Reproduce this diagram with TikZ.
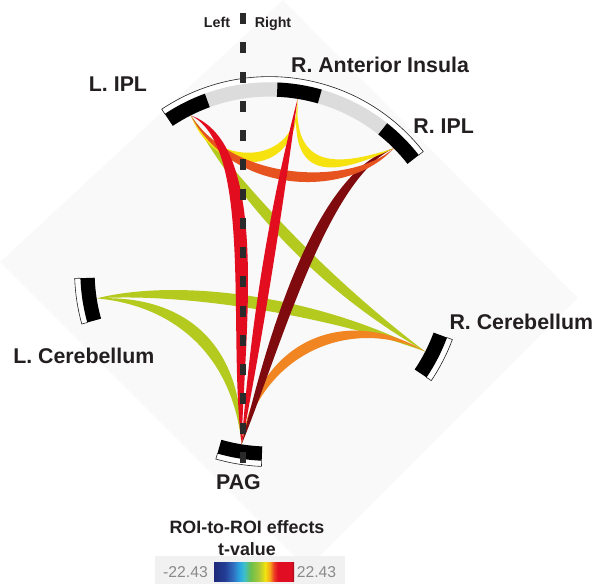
\documentclass[tikz,border=0pt]{standalone}
\usepackage{fontspec}
\setmainfont{Liberation Sans}
\usetikzlibrary{calc}
\definecolor{lbl}{HTML}{231F20}
\definecolor{bgc}{HTML}{F9F9F9}
\definecolor{cbbg}{HTML}{F1F1F1}
\definecolor{ringgray}{HTML}{DCDCDC}
\definecolor{numgray}{HTML}{8A8A8A}
\definecolor{dashc}{HTML}{2A2A2A}
\definecolor{cYG}{HTML}{B4CA1F}
\definecolor{cOR}{HTML}{F08522}
\definecolor{cDR}{HTML}{7F0B0E}
\definecolor{cYE}{HTML}{F6E20F}
\definecolor{cOR2}{HTML}{E6531F}
\definecolor{cRE}{HTML}{E30D20}
\definecolor{cbA}{HTML}{1F2A7A}
\definecolor{cbB}{HTML}{233E96}
\definecolor{cbC}{HTML}{2F6FC0}
\definecolor{cbD}{HTML}{2AA7E0}
\definecolor{cbE}{HTML}{3FBFC8}
\definecolor{cbF}{HTML}{6CBF4A}
\definecolor{cbG}{HTML}{A9C83A}
\definecolor{cbH}{HTML}{F2E40F}
\definecolor{cbI}{HTML}{F7A21B}
\definecolor{cbJ}{HTML}{EC3A24}
\definecolor{cbK}{HTML}{E10D22}
\definecolor{cbL}{HTML}{A80F1F}
\pgfdeclarehorizontalshading{cbarshade}{100bp}{color(0bp)=(cbA); color(25bp)=(cbA); color(32bp)=(cbB); color(37bp)=(cbC); color(41bp)=(cbD); color(44bp)=(cbE); color(48bp)=(cbF); color(53bp)=(cbG); color(57bp)=(cbH); color(60bp)=(cbI); color(62.5bp)=(cbJ); color(65bp)=(cbK); color(73bp)=(cbK); color(75bp)=(cbL); color(100bp)=(cbL)}
\newcommand{\annsec}[5]{\fill[#1] (#2:#4) arc[start angle=#2, end angle=#3, radius=#4] -- (#3:#5) arc[start angle=#3, end angle=#2, radius=#5] -- cycle;}
\newcommand{\stripline}[2]{\draw[line width=0.45pt, lbl] (#1:189) -- (#1:195) arc[start angle=#1, end angle=#2, radius=195] -- (#2:189);}
\newcommand{\roibox}[1]{%
  \annsec{white}{#1-6.8}{#1+6.8}{189}{195}
  \stripline{#1-6.8}{#1+6.8}
  \annsec{black}{#1-6.8}{#1+6.8}{175}{189.3}}
\newcommand{\ribbon}[6]{%
  \coordinate (rbd) at ($(#5)-(#2)$);
  \coordinate (rbo) at ($(0,0)!#6!90:(rbd)$);
  \fill[#1] (#2) .. controls ($#3+(rbo)$) and ($#4+(rbo)$) .. (#5) .. controls ($#4-(rbo)$) and ($#3-(rbo)$) .. (#2) -- cycle;}
\tikzset{
  lab/.style={font=\bfseries\fontsize{16}{19}\selectfont, text=lbl, anchor=base, inner sep=0pt},
  sidelab/.style={font=\bfseries\fontsize{10.7}{13}\selectfont, text=lbl, anchor=base, inner sep=0pt},
  leglab/.style={font=\bfseries\fontsize{13.4}{16}\selectfont, text=lbl, anchor=base, inner sep=0pt},
  numlab/.style={font=\fontsize{11.8}{14}\selectfont, text=numgray, anchor=base, inner sep=0pt},
  midline/.style={dashc, line width=3.8pt, dash pattern=on 8.25pt off 13.7pt}
}
\begin{document}
\begin{tikzpicture}[x=0.75pt, y=-0.75pt]
\useasboundingbox (0,0) rectangle (594,584);
% faint background
\fill[bgc] (283,0) -- (578,298) -- (307,569) -- (0,262) -- cycle;
\fill[cbbg] (155,556) rectangle (345,584);
% ring
\begin{scope}[shift={(269.6,271.6)}, yscale=-1]
  \annsec{white}{38}{123.6}{189}{195}
  \stripline{38}{123.6}
  \annsec{ringgray}{38}{123.6}{175}{189.3}
  \annsec{black}{110}{123.6}{175}{189.3}
  \annsec{black}{74}{87.6}{175}{189.3}
  \annsec{black}{38}{51.6}{175}{189.3}
  \roibox{332.8}
  \roibox{260.8}
  \roibox{188.8}
  \coordinate (pLIPL) at (116.8:175);
  \coordinate (pRAI) at (80.8:175);
  \coordinate (pRIPL) at (44.8:175);
  \coordinate (pRCER) at (332.8:175);
  \coordinate (pPAG) at (260.8:175);
  \coordinate (pLCER) at (188.8:175);
\end{scope}
% connections
\ribbon{cYG}{pLIPL}{(253,210)}{(331,289)}{pRCER}{5.6pt}
\ribbon{cYG}{pLCER}{(180,285)}{(320,305)}{pRCER}{6pt}
\ribbon{cYG}{pLCER}{(180,300)}{(238,350)}{pPAG}{5.8pt}
\ribbon{cOR}{pRCER}{(350,310)}{(260,345)}{pPAG}{5.2pt}
\ribbon{cDR}{pRIPL}{(320,175)}{(272,350)}{pPAG}{5.8pt}
\ribbon{cYE}{pLIPL}{(215,174)}{(300,174)}{pRAI}{4.8pt}
\ribbon{cYE}{pRAI}{(290,176)}{(335,172)}{pRIPL}{4.8pt}
\ribbon{cOR2}{pLIPL}{(235,190)}{(350,192)}{pRIPL}{5pt}
\ribbon{cRE}{pLIPL}{(262,145)}{(236,330)}{pPAG}{6.5pt}
\ribbon{cRE}{pRAI}{(275,214)}{(257,329)}{pPAG}{5.2pt}
% midline
\coordinate (mtop) at (243,13);
\coordinate (mbot) at (243,464);
\draw[midline] (mtop) -- (mbot);
% labels
\node[sidelab] (tLeft) at (217,27.3) {Left};
\node[sidelab] (tRight) at (273,27.3) {Right};
\node[lab] (tRAI) at (380,73) {R. Anterior Insula};
\node[lab] (tLIPL) at (118,91.7) {L. IPL};
\node[lab] (tRIPL) at (443.7,133.5) {R. IPL};
\node[lab] (tRCER) at (521.3,330) {R. Cerebellum};
\node[lab] (tLCER) at (83.8,363.3) {L. Cerebellum};
\node[lab] (tPAG) at (238.5,489.3) {PAG};
% legend
\node[leglab] (tROI) at (247,533.3) {ROI-to-ROI effects};
\node[leglab] (tTV) at (247,556) {t-value};
\shade[shading=cbarshade] (214,562.3) rectangle (294,581.7);
\node[numlab] (nMin) at (185.5,577.7) {-22.43};
\node[numlab] (nMax) at (316.5,577.7) {22.43};
\end{tikzpicture}
\end{document}
